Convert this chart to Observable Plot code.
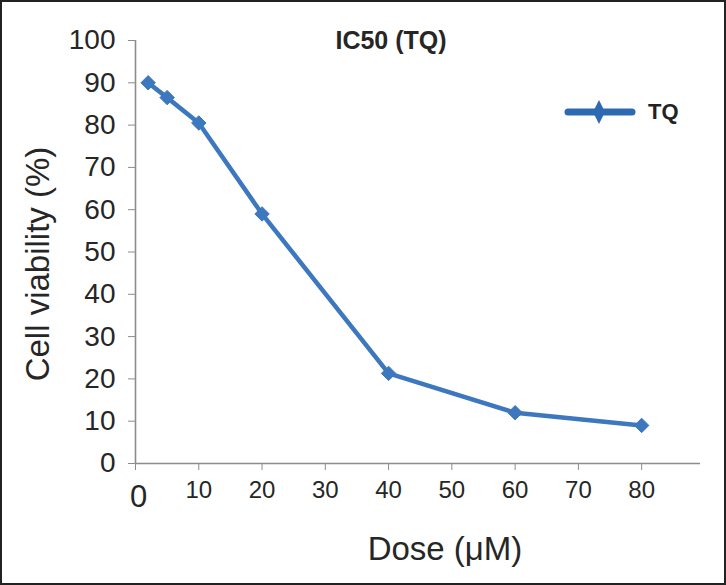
<!DOCTYPE html>
<html>
<head>
<meta charset="utf-8">
<script src="https://cdn.jsdelivr.net/npm/d3@7"></script>
<script src="https://cdn.jsdelivr.net/npm/@observablehq/plot@0.6"></script>
<style>
  html, body { margin: 0; padding: 0; background: #fff; }
  #wrap { position: relative; width: 726px; height: 585px; overflow: hidden; }
  #border { position: absolute; left: 0; top: 0; width: 726px; height: 585px; box-sizing: border-box; border: 2px solid #222; pointer-events: none; }
  #legend { position: absolute; left: 563px; top: 98px; font: bold 22px "Liberation Sans", Arial, sans-serif; color: #222; display: flex; align-items: center; height: 28px; }
</style>
</head>
<body>
<div id="wrap">
  <div id="chart"></div>
  <div id="legend">
    <svg width="74" height="28"><line x1="5" y1="14" x2="69" y2="14" stroke="#2e6ab2" stroke-width="7" stroke-linecap="round"/><path d="M36,2 L42,14 L36,26 L30,14 Z" fill="#2e6ab2"/></svg>
    <span style="margin-left:11px">TQ</span>
  </div>
  <div id="border"></div>
</div>
<script>
const doses = [2, 5, 10, 20, 40, 60, 80];
const viability = [90, 86.5, 80.5, 59, 21.3, 12, 9];
const xTicks = [0, 10, 20, 30, 40, 50, 60, 70, 80];
const yTicks = [0, 10, 20, 30, 40, 50, 60, 70, 80, 90, 100];
const title = "IC50 (TQ)";
const xLabel = "Dose (μM)";
const yLabel = "Cell viability (%)";
const seriesName = "TQ";

const data = doses.map((d, i) => ({dose: d, v: viability[i], series: seriesName}));
const color = "#3d77bd";
const axisColor = "#8c8c8c";
const textColor = "#262626";

const plot = Plot.plot({
  width: 726,
  height: 585,
  marginLeft: 135,
  marginRight: 26,
  marginTop: 40,
  marginBottom: 122,
  style: {fontFamily: "'Liberation Sans', Arial, sans-serif", color: textColor, background: "transparent"},
  x: {domain: [0, 89.3]},
  y: {domain: [0, 100]},
  marks: [
    Plot.ruleY([0], {stroke: axisColor, strokeWidth: 1.6}),
    Plot.ruleX([0], {stroke: axisColor, strokeWidth: 1.6}),
    Plot.axisY({ticks: yTicks, tickSize: 7, tickPadding: 13, fontSize: 28, stroke: axisColor, label: null, fill: textColor}),
    Plot.axisX({ticks: xTicks, tickSize: 7, tickPadding: 10, fontSize: 24, stroke: axisColor, label: null, fill: textColor,
      tickFormat: d => d === 0 ? "" : String(d)}),
    Plot.text([0], {x: d => d, y: 0, text: d => String(d), dy: 34, dx: 3, fontSize: 31, fill: textColor}),
    Plot.text([xLabel], {frameAnchor: "bottom", text: d => d, lineAnchor: "middle", dy: 86, dx: 27, fontSize: 33, fill: textColor}),
    Plot.text([yLabel], {frameAnchor: "left", text: d => d, textAnchor: "middle", lineAnchor: "middle", rotate: -90, dx: -97, dy: 12, fontSize: 33, fill: textColor}),
    Plot.text([title], {frameAnchor: "top", text: d => d, lineAnchor: "middle", dx: -27, dy: 0, fontSize: 25, fontWeight: "bold", fill: textColor}),
    Plot.line(data, {x: "dose", y: "v", stroke: color, strokeWidth: 4.5}),
    Plot.dot(data, {x: "dose", y: "v", symbol: "diamond2", r: 6.5, fill: color, stroke: color, strokeWidth: 1})
  ]
});
document.getElementById("chart").appendChild(plot);
</script>
</body>
</html>
